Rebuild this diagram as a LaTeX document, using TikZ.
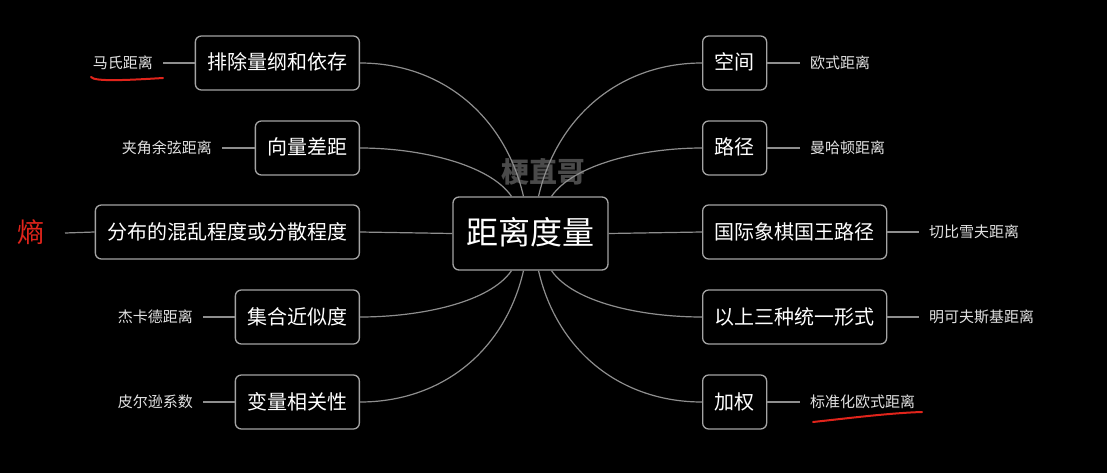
\documentclass[tikz,border=0pt]{standalone}
\usepackage{fontspec}
\setmainfont{Noto Sans CJK SC}
\definecolor{boxgrey}{HTML}{A4A4A4}
\definecolor{linkgrey}{HTML}{8E8E8E}
\definecolor{leafgrey}{HTML}{E2E2E2}
\definecolor{wmgrey}{HTML}{4A4A4A}
\definecolor{penred}{HTML}{E0241B}
\begin{document}
\begin{tikzpicture}[x=1pt,y=1pt,
  box/.style={draw=boxgrey, line width=1.3pt, rounded corners=6pt, fill=black,
    text=white, font=\fontsize{20}{24}\selectfont, minimum height=54pt,
    inner xsep=12pt, inner ysep=0pt, text height=16.5pt, text depth=2.5pt},
  hub/.style={box, font=\fontsize{32}{36}\selectfont, minimum height=73pt,
    minimum width=155pt, inner xsep=13pt, text height=26pt, text depth=4pt},
  leaf/.style={text=leafgrey, font=\fontsize{15}{18}\selectfont,
    inner xsep=10pt, inner ysep=0pt, text height=12.5pt, text depth=2pt},
  link/.style={draw=linkgrey, line width=1.2pt},
  pen/.style={draw=penred, line width=2pt, line cap=round}]
% background
\fill[black] (0,0) rectangle (1107,-473);
\useasboundingbox (0,0) rectangle (1107,-473);

% watermark
\node[text=wmgrey, font=\fontsize{28}{30}\selectfont\bfseries] (wm) at (543,-172) {梗直哥};

% central topic
\node[hub] (c) at (530.5,-233.5) {距离度量};

% left branches
\node[box, anchor=east] (n1) at (360,-63)  {排除量纲和依存};
\node[box, anchor=east] (n2) at (360,-148) {向量差距};
\node[box, anchor=east] (n3) at (360,-232) {分布的混乱程度或分散程度};
\node[box, anchor=east] (n4) at (360,-317) {集合近似度};
\node[box, anchor=east] (n5) at (360,-402) {变量相关性};

% right branches
\node[box, anchor=west] (m1) at (702,-63)  {空间};
\node[box, anchor=west] (m2) at (702,-148) {路径};
\node[box, anchor=west] (m3) at (702,-232) {国际象棋国王路径};
\node[box, anchor=west] (m4) at (702,-317) {以上三种统一形式};
\node[box, anchor=west] (m5) at (702,-402) {加权};

% left leaves
\node[leaf, anchor=east] (l1) at (163,-63)  {马氏距离};
\node[leaf, anchor=east] (l2) at (222,-148) {夹角余弦距离};
\node[text=penred, font=\fontsize{27}{30}\selectfont, inner xsep=20pt, inner ysep=0pt,
      text height=22pt, text depth=4pt, anchor=east] (l3) at (65,-233) {熵};
\node[leaf, anchor=east] (l4) at (203,-317) {杰卡德距离};
\node[leaf, anchor=east] (l5) at (203,-402) {皮尔逊系数};

% right leaves
\node[leaf, anchor=west] (r1) at (800,-63)  {欧式距离};
\node[leaf, anchor=west] (r2) at (800,-148) {曼哈顿距离};
\node[leaf, anchor=west] (r3) at (919,-232) {切比雪夫距离};
\node[leaf, anchor=west] (r4) at (919,-317) {明可夫斯基距离};
\node[leaf, anchor=west] (r5) at (800,-402) {标准化欧式距离};

% leaf connectors
\foreach \a/\b in {l1/n1, l2/n2, l3/n3, l4/n4, l5/n5}
  \draw[link] (\a.east) -- (\b.west);
\foreach \a/\b in {m1/r1, m2/r2, m3/r3, m4/r4, m5/r5}
  \draw[link] (\a.east) -- (\b.west);

% curved connectors from the hub
\draw[link] (n1.east) .. controls +(80,0) and +(-19,82) .. ([xshift=-7pt]c.north);
\draw[link] (n2.east) .. controls +(60,0) and +(-22,32) .. ([xshift=-19pt]c.north);
\draw[link] (n3.east) -- (c.west);
\draw[link] (n4.east) .. controls +(60,0) and +(-22,-32) .. ([xshift=-19pt]c.south);
\draw[link] (n5.east) .. controls +(80,0) and +(-19,-82) .. ([xshift=-7pt]c.south);

\draw[link] (m1.west) .. controls +(-80,0) and +(19,82) .. ([xshift=8pt]c.north);
\draw[link] (m2.west) .. controls +(-60,0) and +(22,32) .. ([xshift=21pt]c.north);
\draw[link] (m3.west) -- (c.east);
\draw[link] (m4.west) .. controls +(-60,0) and +(22,-32) .. ([xshift=21pt]c.south);
\draw[link] (m5.west) .. controls +(-80,0) and +(19,-82) .. ([xshift=8pt]c.south);

% red pen marks
\draw[pen] (91,-77) .. controls (94,-82) and (130,-80) .. (163,-78);
\draw[pen] (813,-422) .. controls (850,-418) and (890,-413) .. (922,-412);
\end{tikzpicture}
\end{document}
